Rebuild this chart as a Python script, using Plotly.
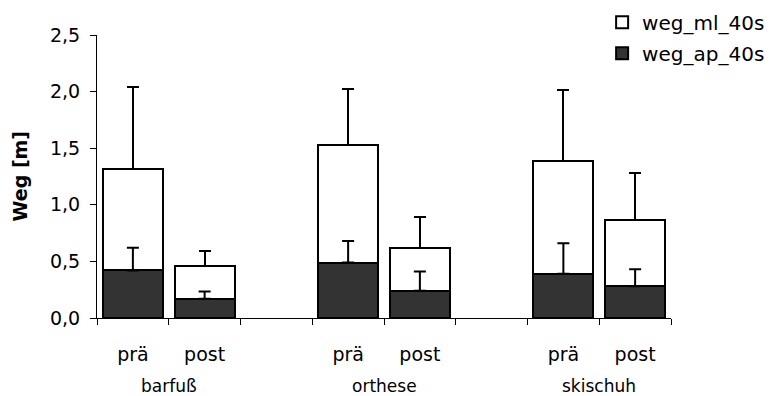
import plotly.graph_objects as go

# Group and condition labels
groups = ["barfuß", "orthese", "skischuh"]
conditions = ["prä", "post"]

# Mean path lengths [m] and standard deviations per condition
weg_ap_40s = [0.42, 0.17, 0.49, 0.24, 0.39, 0.28]
weg_ap_sd = [0.20, 0.065, 0.19, 0.17, 0.27, 0.15]
weg_ml_40s = [0.90, 0.29, 1.04, 0.38, 1.00, 0.59]
weg_ml_sd = [0.72, 0.135, 0.49, 0.27, 0.62, 0.41]

# Bar slots: two bars per group, one empty slot between groups
x_pos = []
x_text = []
for gi, g in enumerate(groups):
    for ci, c in enumerate(conditions):
        x_pos.append(gi * 3 + ci)
        x_text.append(c)
group_centers = [gi * 3 + 0.5 for gi in range(len(groups))]
boundaries = [b - 0.5 for b in range(0, 9)]

FONT = "DejaVu Sans"
ERR = dict(color="black", thickness=2, width=6)
fig = go.Figure()

fig.add_trace(go.Bar(
    x=x_pos, y=weg_ap_40s, name="weg_ap_40s", legendgroup="ap", legendrank=2,
    marker=dict(color="#333333", line=dict(color="black", width=2)),
))
fig.add_trace(go.Bar(
    x=x_pos, y=weg_ml_40s, name="weg_ml_40s", legendgroup="ml", legendrank=1,
    marker=dict(color="white", line=dict(color="black", width=2)),
    error_y=dict(type="data", array=weg_ml_sd, arrayminus=[0] * len(weg_ml_sd), **ERR),
))
# Upper SD whiskers of the lower segment, drawn on top of the stacked bars
fig.add_trace(go.Scatter(
    x=x_pos, y=weg_ap_40s, mode="markers", marker=dict(size=0, opacity=0),
    showlegend=False, hoverinfo="skip",
    error_y=dict(type="data", array=weg_ap_sd, arrayminus=[0] * len(weg_ap_sd), **ERR),
))

for gx, g in zip(group_centers, groups):
    fig.add_annotation(x=gx, y=0, xref="x", yref="paper", text=g,
                       showarrow=False, yanchor="middle", yshift=-68,
                       font=dict(family=FONT, size=17, color="black"))

fig.add_annotation(x=0, y=0.5, xref="paper", yref="paper", text="<b>Weg [m]</b>",
                   textangle=-90, showarrow=False, xanchor="center", yanchor="middle",
                   xshift=-78, font=dict(family=FONT, size=19, color="black"))

fig.update_layout(
    width=772, height=396,
    margin=dict(l=97, r=101, t=35, b=78, autoexpand=False),
    paper_bgcolor="white", plot_bgcolor="white",
    barmode="stack", bargap=0.164,
    separators=",.",
    font=dict(family=FONT, color="black"),
    showlegend=True,
    legend=dict(x=0.88, y=1.114, xanchor="left", yanchor="top",
                traceorder="grouped", tracegroupgap=2,
                font=dict(family=FONT, size=20, color="black"),
                bgcolor="rgba(0,0,0,0)"),
    xaxis=dict(range=[-0.5, 7.5], tickvals=x_pos, ticktext=x_text, ticks="",
               showline=True, linecolor="black", linewidth=1, showgrid=False,
               zeroline=False, tickfont=dict(family=FONT, size=19, color="black"),
               ticklabelstandoff=19,
               minor=dict(tickvals=boundaries, ticks="outside", ticklen=6,
                          tickcolor="black", tickwidth=1, showgrid=False)),
    yaxis=dict(range=[0, 2.5], dtick=0.5, tickformat=".1f", ticks="outside",
               ticklen=6, tickcolor="black", showline=True, linecolor="black",
               linewidth=1, showgrid=False, zeroline=False,
               tickfont=dict(family=FONT, size=19, color="black"),
               ticklabelstandoff=6),
)

fig.write_html("out.html")
